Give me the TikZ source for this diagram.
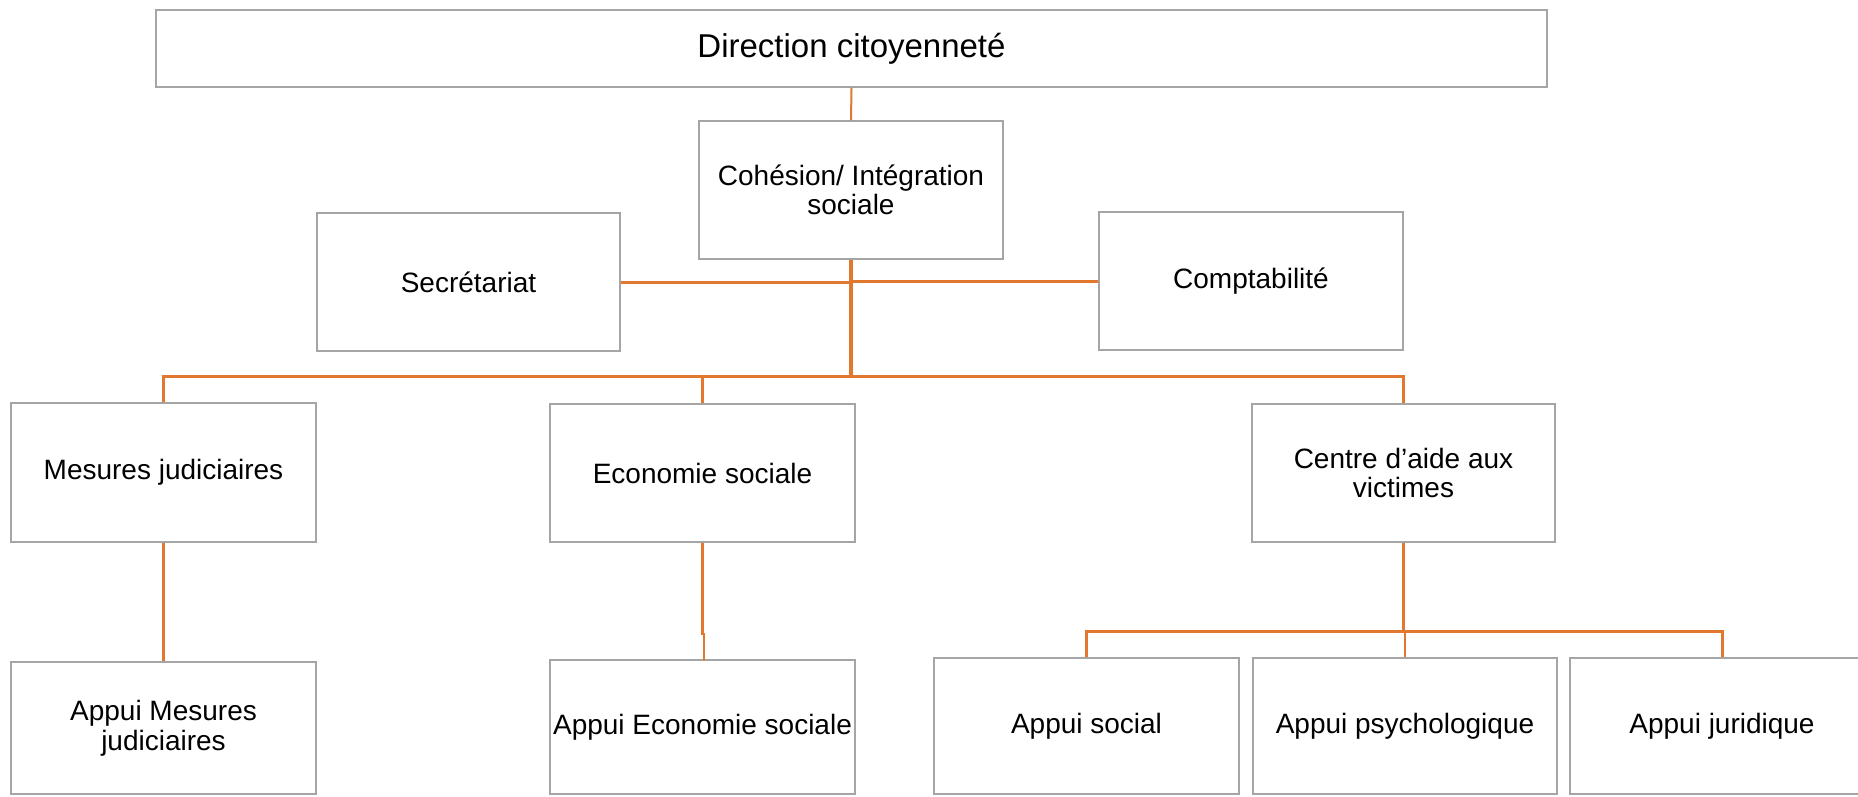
\documentclass[tikz,border=0pt]{standalone}
\usepackage{fontspec}
\setmainfont{Liberation Sans}
\definecolor{conn}{HTML}{E0782F}
\definecolor{boxgray}{HTML}{A5A5A5}
\tikzset{
  orgbox/.style={draw=boxgray, line width=1.8pt, fill=white, inner sep=0pt, align=center,
    font=\fontsize{28}{29.5}\selectfont},
  link/.style={draw=conn, line width=3pt},
  thinlink/.style={draw=conn, line width=2pt},
}
\begin{document}
\begin{tikzpicture}[x=1pt, y=-1pt]
\useasboundingbox (0,0) rectangle (1858,796);
\clip (0,0) rectangle (1858,796);
\fill[white] (0,0) rectangle (1858,796);

\node[orgbox, minimum width=1391pt, minimum height=77pt, font=\fontsize{33}{35}\selectfont] (dir) at (851.5,48.5) {Direction citoyenneté};
\node[orgbox, minimum width=304pt, minimum height=138pt] (coh) at (851,190) {Cohésion/ Intégration\\sociale};
\node[orgbox, minimum width=303pt, minimum height=138pt] (sec) at (468.5,282) {Secrétariat};
\node[orgbox, minimum width=304pt, minimum height=138pt] (comp) at (1251,281) {Comptabilité};

\node[orgbox, minimum width=305pt, minimum height=139pt] (mes) at (163.5,472.5) {Mesures judiciaires};
\node[orgbox, minimum width=305pt, minimum height=138pt] (eco) at (702.5,473) {Economie sociale};
\node[orgbox, minimum width=303pt, minimum height=138pt] (cen) at (1403.5,473) {Centre d’aide aux\\victimes};

\node[orgbox, minimum width=305pt, minimum height=132pt] (ames) at (163.5,728) {Appui Mesures\\judiciaires};
\node[orgbox, minimum width=305pt, minimum height=134pt] (aeco) at (702.5,727) {Appui Economie sociale};
\node[orgbox, minimum width=305pt, minimum height=136pt] (asoc) at (1086.5,726) {Appui social};
\node[orgbox, minimum width=304pt, minimum height=136pt] (apsy) at (1405,726) {Appui psychologique};
\node[orgbox, minimum width=304pt, minimum height=136pt] (ajur) at (1722,726) {Appui juridique};

\coordinate (busy) at (0,376.5);
\coordinate (subbus) at (0,631);

% top links
\draw[thinlink] (dir.south) -- (coh.north);
\draw[link] (sec.east) -- (sec.east -| coh.south);
\draw[link] (comp.west) -- (comp.west -| coh.south);
\draw[link, line width=3.6pt] (coh.south) -- (coh.south |- busy);

% main bus
\draw[link] (mes.north) -- (mes.north |- busy) -- (cen.north |- busy) -- (cen.north);
\draw[link] (eco.north) -- (eco.north |- busy);

% second level
\draw[link] (mes.south) -- (ames.north);
\draw[thinlink, line width=2.5pt] (eco.south) -- ++(0,91) -- ++(1.5,0) -- ++(0,27);

% victims sub-bus
\draw[link] (cen.south) -- (cen.south |- subbus);
\draw[link] (asoc.north) -- (asoc.north |- subbus) -- (ajur.north |- subbus) -- (ajur.north);
\draw[link, line width=2.5pt] (apsy.north) -- (apsy.north |- subbus);
\end{tikzpicture}
\end{document}
